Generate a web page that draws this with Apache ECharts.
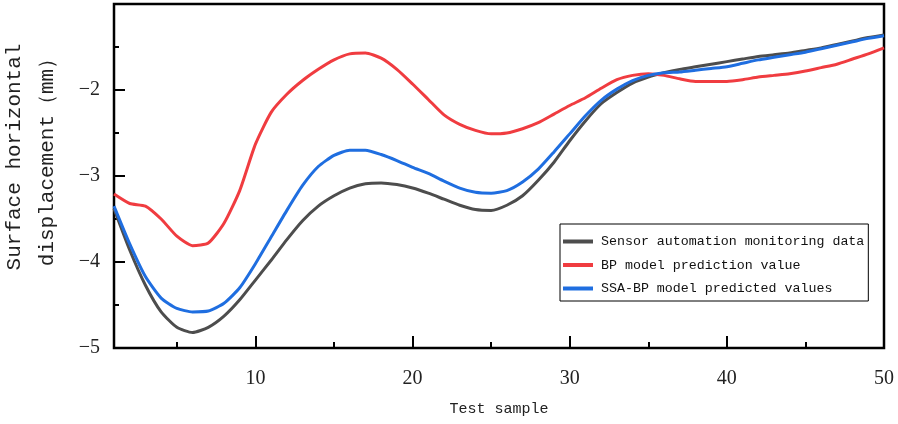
<!DOCTYPE html>
<html>
<head>
<meta charset="utf-8">
<script src="https://cdn.jsdelivr.net/npm/echarts@6/dist/echarts.min.js"></script>
<style>
  html, body { margin: 0; padding: 0; background: #fff; }
  #main { width: 898px; height: 424px; }
</style>
</head>
<body>
<div id="main"></div>
<script>
var samples = [];
for (var n = 1; n <= 50; n++) { samples.push(n); }

var sensorData = [-3.38, -3.86, -4.27, -4.58, -4.76, -4.82, -4.76, -4.63, -4.44, -4.21,
    -3.98, -3.74, -3.52, -3.35, -3.23, -3.14, -3.09, -3.08, -3.10, -3.14,
    -3.20, -3.27, -3.34, -3.39, -3.40, -3.34, -3.23, -3.05, -2.84, -2.59,
    -2.36, -2.16, -2.03, -1.92, -1.85, -1.80, -1.76, -1.73, -1.70, -1.67,
    -1.64, -1.61, -1.59, -1.57, -1.54, -1.51, -1.47, -1.43, -1.39, -1.36];

var bpData = [-3.21, -3.32, -3.35, -3.50, -3.70, -3.81, -3.78, -3.55, -3.17, -2.63,
    -2.26, -2.05, -1.89, -1.76, -1.65, -1.58, -1.57, -1.63, -1.76, -1.93,
    -2.11, -2.29, -2.40, -2.47, -2.51, -2.50, -2.45, -2.38, -2.28, -2.18,
    -2.09, -1.98, -1.88, -1.83, -1.81, -1.83, -1.87, -1.90, -1.90, -1.90,
    -1.88, -1.85, -1.83, -1.81, -1.78, -1.74, -1.70, -1.64, -1.58, -1.51];

var ssaBpData = [-3.35, -3.79, -4.17, -4.42, -4.54, -4.58, -4.57, -4.48, -4.30, -4.02,
    -3.71, -3.40, -3.11, -2.89, -2.76, -2.70, -2.70, -2.75, -2.82, -2.90,
    -2.97, -3.06, -3.14, -3.19, -3.20, -3.17, -3.07, -2.92, -2.72, -2.51,
    -2.30, -2.12, -1.99, -1.89, -1.83, -1.80, -1.79, -1.77, -1.75, -1.73,
    -1.69, -1.65, -1.62, -1.59, -1.56, -1.52, -1.48, -1.44, -1.40, -1.37];

var seriesNames = ['Sensor automation monitoring data', 'BP model prediction value', 'SSA-BP model predicted values'];
var seriesColors = ['#4d4d4d', '#f03c40', '#1f6ee0'];

var xMajor = [10, 20, 30, 40, 50];
var xMinor = [5, 15, 25, 35, 45];
var yMajor = [-5, -4, -3, -2];
var yMinor = [-4.5, -3.5, -2.5, -1.5];

var monoFont = '"Liberation Mono", "DejaVu Sans Mono", monospace';

var pairs = function(values) {
    return values.map(function(v, i) { return [samples[i], v]; });
};

var makeLine = function(name, values, color) {
    return {
        name: name,
        type: 'line',
        data: pairs(values),
        symbol: 'none',
        smooth: 0.2,
        lineStyle: { color: color, width: 3 },
        itemStyle: { color: color }
    };
};

// x: one axis for labels + long ticks, one for short ticks
var baseX = {
    type: 'value', min: 1, max: 50, gridIndex: 0, position: 'bottom',
    splitLine: { show: false },
    axisLine: { lineStyle: { color: '#000', width: 2 } }
};
var baseY = {
    type: 'value', min: -5, max: -1, gridIndex: 0, position: 'left',
    splitLine: { show: false },
    axisLine: { lineStyle: { color: '#000', width: 2 } }
};

var myChart = echarts.init(document.getElementById('main'));
var option = {
    backgroundColor: '#fff',
    animation: false,
    grid: {
        left: 114, right: 14, top: 4, bottom: 76,
        show: true, borderColor: '#000', borderWidth: 2.5
    },
    xAxis: [
        Object.assign({}, baseX, {
            axisTick: { inside: true, length: 12, customValues: xMajor, lineStyle: { color: '#000', width: 2 } },
            axisLabel: { customValues: xMajor, margin: 21, color: '#222', fontFamily: 'Liberation Serif', fontSize: 20 }
        }),
        Object.assign({}, baseX, {
            axisTick: { inside: true, length: 6, customValues: xMinor, lineStyle: { color: '#000', width: 2 } },
            axisLabel: { show: false }
        })
    ],
    yAxis: [
        Object.assign({}, baseY, {
            axisTick: { inside: true, length: 11, customValues: yMajor, lineStyle: { color: '#000', width: 2 } },
            axisLabel: {
                customValues: yMajor, margin: 14, color: '#222', fontFamily: 'Liberation Serif', fontSize: 20,
                formatter: function(v) { return String(v).replace('-', '\u2212'); }
            }
        }),
        Object.assign({}, baseY, {
            axisTick: { inside: true, length: 5, customValues: yMinor, lineStyle: { color: '#000', width: 2 } },
            axisLabel: { show: false }
        })
    ],
    legend: {
        orient: 'vertical',
        left: 560, top: 224,
        data: seriesNames,
        icon: 'rect',
        itemWidth: 30, itemHeight: 4,
        itemGap: 10.5,
        padding: [11, 4, 6, 3],
        borderColor: '#000', borderWidth: 1,
        textStyle: { fontFamily: monoFont, fontSize: 13.3, color: '#111', padding: [0, 0, 0, 3] }
    },
    graphic: [
        {
            type: 'text', x: 31, y: 157, rotation: Math.PI / 2,
            style: {
                text: 'Surface horizontal\ndisplacement\uff08mm\uff09',
                font: '21px ' + monoFont, fill: '#222',
                align: 'center', verticalAlign: 'middle', lineHeight: 33
            }
        },
        {
            type: 'text', x: 499, y: 409,
            style: {
                text: 'Test sample',
                font: '15px ' + monoFont, fill: '#222',
                align: 'center', verticalAlign: 'middle'
            }
        }
    ],
    series: [
        makeLine(seriesNames[0], sensorData, seriesColors[0]),
        makeLine(seriesNames[1], bpData, seriesColors[1]),
        makeLine(seriesNames[2], ssaBpData, seriesColors[2])
    ]
};
myChart.setOption(option);
</script>
</body>
</html>
